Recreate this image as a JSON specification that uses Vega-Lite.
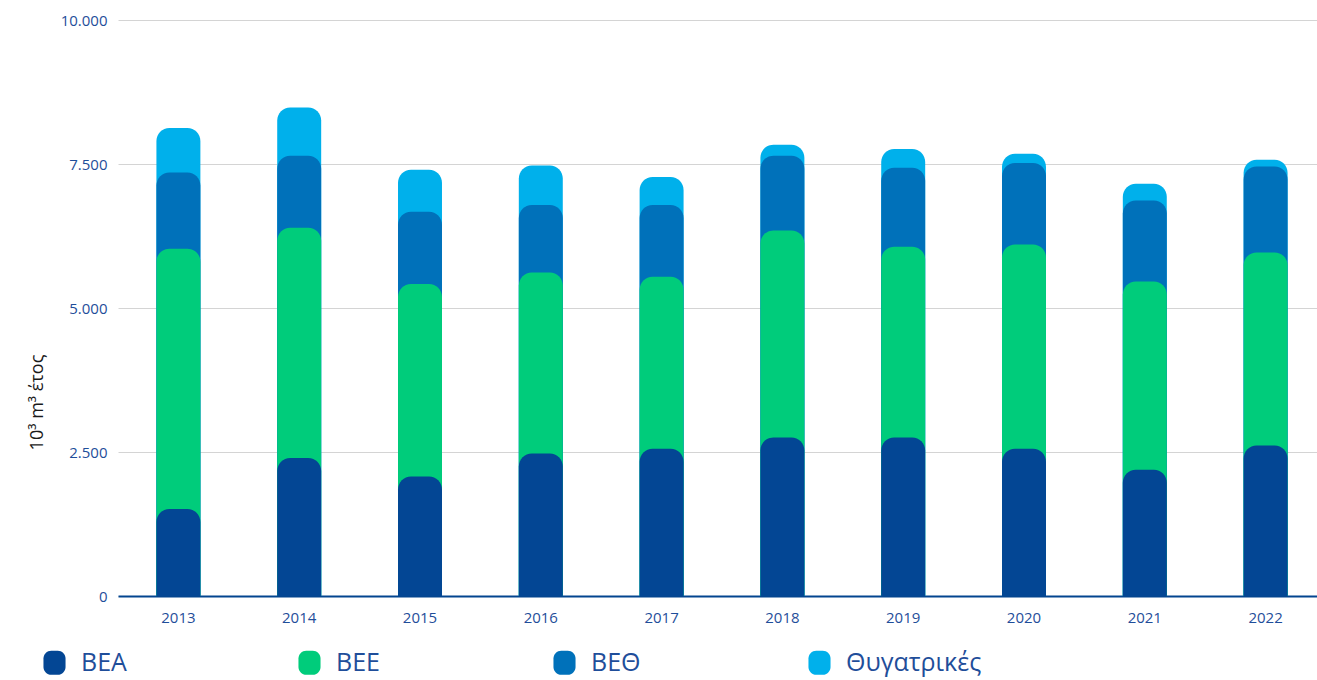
{
  "$schema": "https://vega.github.io/schema/vega-lite/v6.json",
  "width": 1208,
  "height": 576,
  "autosize": {"type": "none"},
  "padding": {"left": 118, "top": 20, "right": 0, "bottom": 84},
  "background": "white",
  "data": {
    "values": [
      {"year": "2013", "series": "ΒΕΑ", "value": 1510},
      {"year": "2013", "series": "ΒΕΕ", "value": 4520},
      {"year": "2013", "series": "ΒΕΘ", "value": 1324},
      {"year": "2013", "series": "Θυγατρικές", "value": 771},
      {"year": "2014", "series": "ΒΕΑ", "value": 2396},
      {"year": "2014", "series": "ΒΕΕ", "value": 3998},
      {"year": "2014", "series": "ΒΕΘ", "value": 1250},
      {"year": "2014", "series": "Θυγατρικές", "value": 839},
      {"year": "2015", "series": "ΒΕΑ", "value": 2076},
      {"year": "2015", "series": "ΒΕΕ", "value": 3341},
      {"year": "2015", "series": "ΒΕΘ", "value": 1255},
      {"year": "2015", "series": "Θυγατρικές", "value": 729},
      {"year": "2016", "series": "ΒΕΑ", "value": 2476},
      {"year": "2016", "series": "ΒΕΕ", "value": 3142},
      {"year": "2016", "series": "ΒΕΘ", "value": 1170},
      {"year": "2016", "series": "Θυγατρικές", "value": 688},
      {"year": "2017", "series": "ΒΕΑ", "value": 2557},
      {"year": "2017", "series": "ΒΕΕ", "value": 2986},
      {"year": "2017", "series": "ΒΕΘ", "value": 1245},
      {"year": "2017", "series": "Θυγατρικές", "value": 486},
      {"year": "2018", "series": "ΒΕΑ", "value": 2753},
      {"year": "2018", "series": "ΒΕΕ", "value": 3594},
      {"year": "2018", "series": "ΒΕΘ", "value": 1297},
      {"year": "2018", "series": "Θυγατρικές", "value": 191},
      {"year": "2019", "series": "ΒΕΑ", "value": 2753},
      {"year": "2019", "series": "ΒΕΕ", "value": 3311},
      {"year": "2019", "series": "ΒΕΘ", "value": 1372},
      {"year": "2019", "series": "Θυγατρικές", "value": 324},
      {"year": "2020", "series": "ΒΕΑ", "value": 2557},
      {"year": "2020", "series": "ΒΕΕ", "value": 3547},
      {"year": "2020", "series": "ΒΕΘ", "value": 1413},
      {"year": "2020", "series": "Θυγατρικές", "value": 162},
      {"year": "2021", "series": "ΒΕΑ", "value": 2193},
      {"year": "2021", "series": "ΒΕΕ", "value": 3269},
      {"year": "2021", "series": "ΒΕΘ", "value": 1406},
      {"year": "2021", "series": "Θυγατρικές", "value": 290},
      {"year": "2022", "series": "ΒΕΑ", "value": 2615},
      {"year": "2022", "series": "ΒΕΕ", "value": 3350},
      {"year": "2022", "series": "ΒΕΘ", "value": 1493},
      {"year": "2022", "series": "Θυγατρικές", "value": 117}
    ]
  },
  "transform": [
    {
      "window": [{"op": "sum", "field": "value", "as": "cum"}],
      "groupby": ["year"],
      "sort": [{"field": "series", "order": "ascending"}],
      "frame": [null, 0]
    }
  ],
  "mark": {"type": "bar", "cornerRadiusTopLeft": 13, "cornerRadiusTopRight": 13},
  "encoding": {
    "x": {
      "field": "year",
      "type": "ordinal",
      "scale": {"paddingInner": 0.636, "paddingOuter": 0.318},
      "axis": {
        "title": null,
        "labelAngle": 0,
        "ticks": false,
        "domain": true,
        "domainColor": "#03458F",
        "domainWidth": 2,
        "labelColor": "#1F4E9A",
        "labelFont": "Open Sans",
        "labelFontSize": 15,
        "labelPadding": 14,
        "grid": false
      }
    },
    "y": {
      "field": "cum",
      "type": "quantitative",
      "stack": null,
      "scale": {"domain": [0, 10000], "nice": false},
      "axis": {
        "values": [0, 2500, 5000, 7500, 10000],
        "labelExpr": "replace(format(datum.value, ','), ',', '.')",
        "title": "10³ m³ έτος",
        "titleFont": "Open Sans",
        "titleFontSize": 18,
        "titleFontWeight": "normal",
        "titleColor": "#1a1a1a",
        "titleX": -72,
        "titleY": 382,
        "ticks": false,
        "domain": false,
        "labelColor": "#1F4E9A",
        "labelFont": "Open Sans",
        "labelFontSize": 15,
        "labelPadding": 11,
        "gridColor": "#d4d4d4",
        "gridWidth": 1
      }
    },
    "color": {
      "field": "series",
      "type": "nominal",
      "scale": {
        "domain": ["ΒΕΑ", "ΒΕΕ", "ΒΕΘ", "Θυγατρικές"],
        "range": ["#034694", "#00CC7B", "#0071BA", "#00B0EB"]
      },
      "legend": {
        "title": null,
        "orient": "none",
        "direction": "horizontal",
        "legendX": -76,
        "legendY": 630,
        "columns": 4,
        "gridAlign": "all",
        "columnPadding": 80,
        "symbolType": "M -0.27,-1 L 0.27,-1 A 0.65,0.65 0 0 1 0.92,-0.35 L 0.92,0.35 A 0.65,0.65 0 0 1 0.27,1 L -0.27,1 A 0.65,0.65 0 0 1 -0.92,0.35 L -0.92,-0.35 A 0.65,0.65 0 0 1 -0.27,-1 Z",
        "symbolSize": 576,
        "symbolStrokeWidth": 0,
        "symbolOpacity": 1,
        "labelFont": "Open Sans",
        "labelFontSize": 25,
        "labelColor": "#1F4E9A",
        "labelOffset": 14,
        "labelLimit": 300
      }
    },
    "order": {"field": "cum", "sort": "descending"}
  },
  "config": {
    "view": {"stroke": null}
  }
}
